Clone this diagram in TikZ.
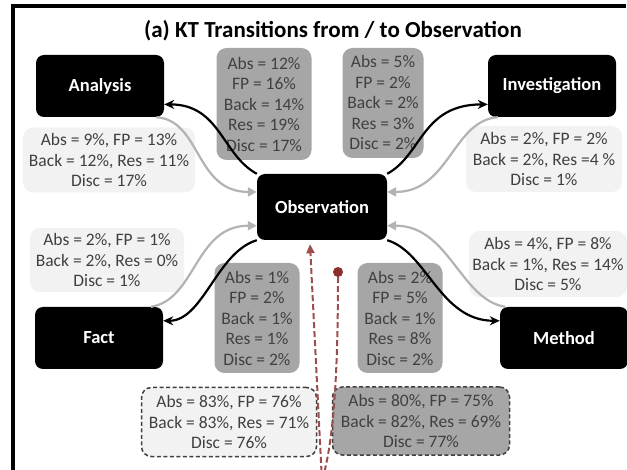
\documentclass[tikz,border=0pt]{standalone}
\usepackage{fontspec}
\setmainfont{Carlito}
\usepackage{xcolor}
\usetikzlibrary{arrows.meta}

\definecolor{statdark}{HTML}{A6A6A6}
\definecolor{statlight}{HTML}{F2F2F2}
\definecolor{stattext}{HTML}{404040}
\definecolor{backgray}{HTML}{B3B3B3}
\definecolor{selfred}{HTML}{8B2E2E}

\newcommand{\statsize}{\fontsize{17.5}{20.5}\selectfont}

\begin{document}
\begin{tikzpicture}[x=1pt, y=-1pt,
    ktbox/.style={fill=black, rounded corners=8pt, text=white, inner sep=0pt,
        minimum width=128pt, minimum height=62pt,
        font=\bfseries\fontsize{18.5}{22}\selectfont},
    darkstat/.style={fill=statdark, rounded corners=10pt, text=stattext,
        inner sep=0pt, align=center, font=\statsize},
    lightstat/.style={fill=statlight, rounded corners=10pt, text=stattext,
        inner sep=0pt, align=center, font=\statsize},
    dashstat/.style={draw=stattext, dash pattern=on 4pt off 2.5pt, line width=1.5pt},
    outarrow/.style={line width=2.2pt, -{Stealth[length=10pt,width=9pt]}},
    inarrow/.style={draw=backgray, line width=2.2pt, -{Triangle[length=9pt,width=9pt]}},
    selfloop/.style={draw=selfred!85, line width=2pt, dash pattern=on 6pt off 3pt}]
    \useasboundingbox (0,0) rectangle (627,470);
    \draw[line width=3.5pt] (13,474) -- (13,6) -- (626,6);

    \node[font=\bfseries\fontsize{23}{27}\selectfont] (title) at (333,31)
        {(a) KT Transitions from / to Observation};

    % knowledge types
    \node[ktbox] (ana) at (100,86) {Analysis};
    \node[ktbox] (inv) at (552,86) {Investigation};
    \node[ktbox, minimum width=130pt, minimum height=66pt] (obs) at (322,207) {Observation};
    \node[ktbox] (fact) at (99,338) {Fact};
    \node[ktbox] (meth) at (564,338) {Method};

    % transition rates
    \node[darkstat, minimum width=95pt, minimum height=112pt] (anaout) at (264,104)
        {Abs = 12\%\\FP = 16\%\\Back = 14\%\\Res = 19\%\\Disc = 17\%};
    \node[darkstat, minimum width=81pt, minimum height=110pt] (invout) at (383,103)
        {Abs = 5\%\\FP = 2\%\\Back = 2\%\\Res = 3\%\\Disc = 2\%};
    \node[lightstat, minimum width=172pt, minimum height=65pt] (anain) at (109,160)
        {Abs = 9\%, FP = 13\%\\Back = 12\%, Res = 11\%\\Disc = 17\%};
    \node[lightstat, minimum width=156pt, minimum height=66pt] (invin) at (544,159)
        {Abs = 2\%, FP = 2\%\\Back = 2\%, Res =4 \%\\Disc = 1\%};
    \node[lightstat, minimum width=154pt, minimum height=64pt] (factin) at (107,260)
        {Abs = 2\%, FP = 1\%\\Back = 2\%, Res = 0\%\\Disc = 1\%};
    \node[lightstat, minimum width=158pt, minimum height=66pt] (methin) at (548,264)
        {Abs = 4\%, FP = 8\%\\Back = 1\%, Res = 14\%\\Disc = 5\%};
    \node[darkstat, minimum width=85pt, minimum height=110pt] (factout) at (257,318)
        {Abs = 1\%\\FP = 2\%\\Back = 1\%\\Res = 1\%\\Disc = 2\%};
    \node[darkstat, minimum width=85pt, minimum height=110pt] (methout) at (400,318)
        {Abs = 2\%\\FP = 5\%\\Back = 1\%\\Res = 8\%\\Disc = 2\%};
    \node[lightstat, dashstat, minimum width=175pt, minimum height=69pt] (loopin) at (229,422)
        {Abs = 83\%, FP = 76\%\\Back = 83\%, Res = 71\%\\Disc = 76\%};
    \node[darkstat, dashstat, minimum width=177pt, minimum height=68pt] (loopout) at (421,421)
        {Abs = 80\%, FP = 75\%\\Back = 82\%, Res = 69\%\\Disc = 77\%};

    % from Observation
    \draw[outarrow] (obs.north west) .. controls +(-35,-19) and +(56,0) .. (ana.-16);
    \draw[outarrow] (obs.north east) .. controls +(35,-19) and +(-66,0) .. (inv.196);
    \draw[outarrow] (obs.south west) .. controls +(-40,12) and +(40,0) .. (fact.15);
    \draw[outarrow] (obs.south east) .. controls +(40,12) and +(-60,0) .. (meth.165);

    % to Observation
    \draw[inarrow] (ana.-29) .. controls +(45,3) and +(-62,0) .. (obs.167);
    \draw[inarrow] (inv.-150) .. controls +(-45,3) and +(62,0) .. (obs.13);
    \draw[inarrow] (fact.31) .. controls +(45,-7) and +(-62,0) .. (obs.-164);
    \draw[inarrow] (meth.152) .. controls +(-45,-7) and +(62,0) .. (obs.-16);

    % Observation to Observation
    \node[circle, fill=selfred, minimum size=10pt, inner sep=0pt] (dot) at (338,272) {};
    \coordinate (loopbot) at (322,482);
    \draw[selfloop, -{Triangle[length=9pt,width=8pt]}] (dot) .. controls (338,420) and (328,458)
        .. (loopbot) -- ([xshift=-12pt, yshift=-4pt]obs.south);
\end{tikzpicture}
\end{document}
